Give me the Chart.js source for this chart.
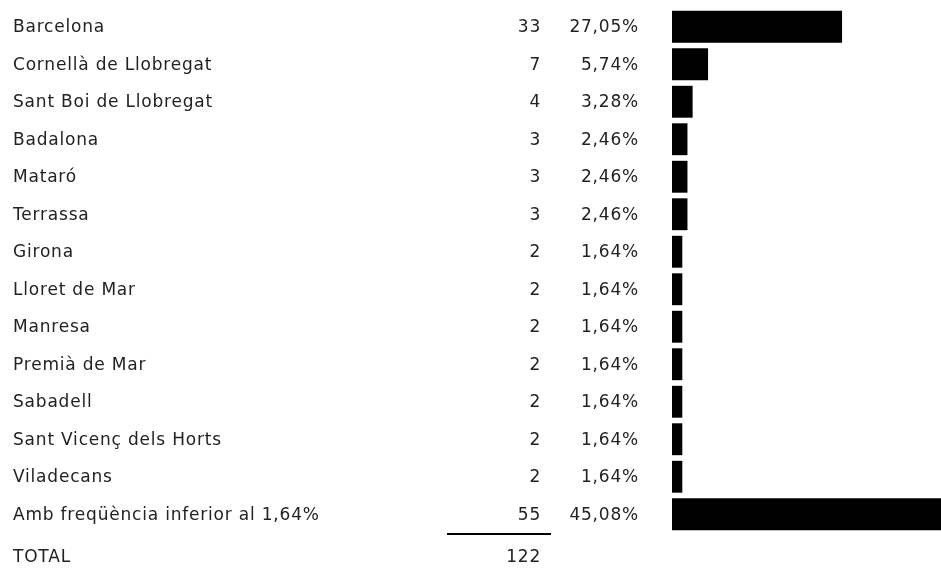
<!DOCTYPE html>
<html><head><meta charset="utf-8">
<script src="https://cdn.jsdelivr.net/npm/chart.js@4"></script>
<style>html,body{margin:0;padding:0;background:#fff;}#wrap{width:941px;height:568px;position:relative;}</style>
</head><body><div id="wrap"><canvas id="c" width="941" height="568"></canvas></div>
<script>
const categories = ["Barcelona","Cornellà de Llobregat","Sant Boi de Llobregat","Badalona","Mataró","Terrassa","Girona","Lloret de Mar","Manresa","Premià de Mar","Sabadell","Sant Vicenç dels Horts","Viladecans","Amb freqüència inferior al 1,64%"];
const counts = [33,7,4,3,3,3,2,2,2,2,2,2,2,55];
const percents = ["27,05%","5,74%","3,28%","2,46%","2,46%","2,46%","1,64%","1,64%","1,64%","1,64%","1,64%","1,64%","1,64%","45,08%"];
const totalLabel = "TOTAL";
const totalValue = 122;

const FONT = '17px "DejaVu Sans"';
const textPlugin = {
  id: 'tableText',
  afterDraw(chart) {
    const ctx = chart.ctx;
    const y = chart.scales.y;
    ctx.save();
    ctx.font = FONT;
    if ('letterSpacing' in ctx) ctx.letterSpacing = '0.8px';
    ctx.fillStyle = '#222';
    ctx.textBaseline = 'middle';
    categories.forEach((c, i) => {
      const py = y.getPixelForValue(i) + 1;
      ctx.textAlign = 'left';
      ctx.fillText(c, 13, py);
      ctx.textAlign = 'right';
      ctx.fillText(String(counts[i]), 541, py);
      ctx.fillText(percents[i], 639, py);
    });
    const lineY = chart.chartArea.bottom + 1;
    ctx.strokeStyle = '#000';
    ctx.lineWidth = 2;
    ctx.beginPath(); ctx.moveTo(447, lineY); ctx.lineTo(551, lineY); ctx.stroke();
    const ty = lineY + 24;
    ctx.textAlign = 'left';
    ctx.fillText(totalLabel, 13, ty);
    ctx.textAlign = 'right';
    ctx.fillText(String(totalValue), 541, ty);
    ctx.restore();
  }
};

new Chart(document.getElementById('c'), {
  type: 'bar',
  data: { labels: categories, datasets: [{ data: counts, backgroundColor: '#000', borderWidth: 0, barPercentage: 0.85, categoryPercentage: 1 }] },
  options: {
    indexAxis: 'y', responsive: false, animation: false,
    layout: { padding: { left: 672, right: 0, top: 8, bottom: 35 } },
    plugins: { legend: { display: false }, tooltip: { enabled: false } },
    scales: {
      x: { display: false, min: 0, max: 52.2 },
      y: { display: false }
    }
  },
  plugins: [textPlugin]
});
</script></body></html>
